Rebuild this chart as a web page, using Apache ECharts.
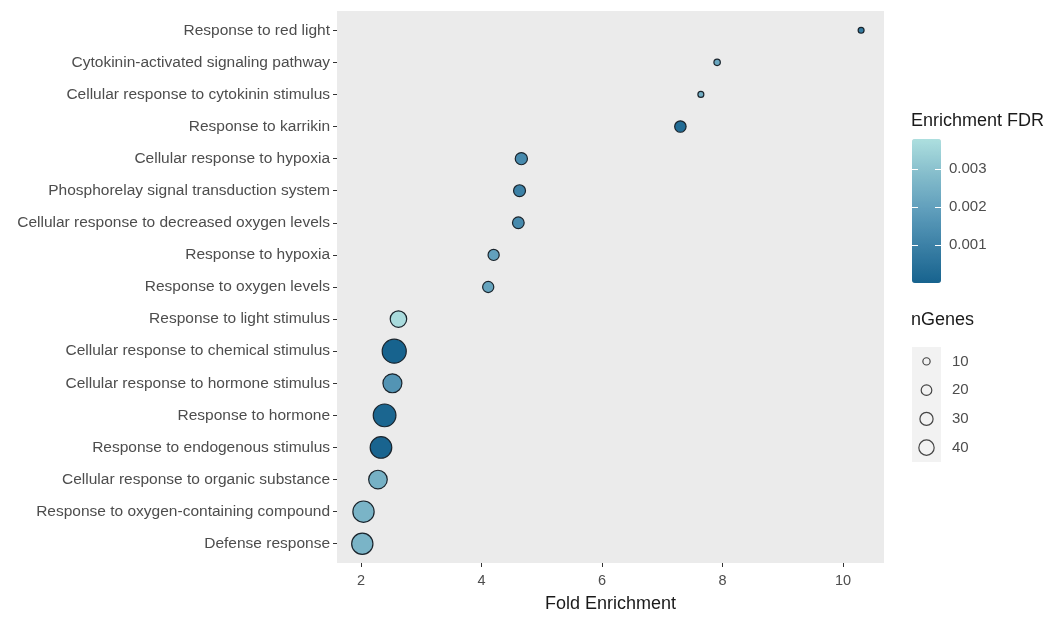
<!DOCTYPE html>
<html>
<head>
<meta charset="utf-8">
<script src="https://cdn.jsdelivr.net/npm/echarts@6/dist/echarts.min.js"></script>
<style>html,body{margin:0;padding:0;background:#fff}#c{width:1064px;height:618px}</style>
</head>
<body>
<div id="c"></div>
<script>
const categories = [
  'Response to red light',
  'Cytokinin-activated signaling pathway',
  'Cellular response to cytokinin stimulus',
  'Response to karrikin',
  'Cellular response to hypoxia',
  'Phosphorelay signal transduction system',
  'Cellular response to decreased oxygen levels',
  'Response to hypoxia',
  'Response to oxygen levels',
  'Response to light stimulus',
  'Cellular response to chemical stimulus',
  'Cellular response to hormone stimulus',
  'Response to hormone',
  'Response to endogenous stimulus',
  'Cellular response to organic substance',
  'Response to oxygen-containing compound',
  'Defense response'
];
const foldEnrichment = [10.30, 7.91, 7.64, 7.30, 4.66, 4.63, 4.61, 4.20, 4.11, 2.62, 2.55, 2.52, 2.39, 2.33, 2.28, 2.04, 2.02];
const fdr = [0.0008, 0.0022, 0.0024, 0.0003, 0.0013, 0.0010, 0.0013, 0.0020, 0.0021, 0.0037, 0.00001, 0.0016, 0.0001, 0.00005, 0.0025, 0.0026, 0.0026];
const nGenes = [7, 8, 7, 23, 26, 25, 24, 22, 22, 46, 95, 60, 85, 77, 58, 75, 75];
const xTicks = [2, 4, 6, 8, 10];
const fdrTicks = [0.001, 0.002, 0.003];
const sizeBreaks = [10, 20, 30, 40];

const sizeFn = n => 2.55 * Math.sqrt(n) - 0.8;
const mainData = categories.map((c, i) => [foldEnrichment[i], i, fdr[i], nGenes[i]]);
const font = 'Liberation Sans, Arial, sans-serif';

const chart = echarts.init(document.getElementById('c'), null, {renderer: 'canvas'});
chart.setOption({
  animation: false,
  backgroundColor: '#ffffff',
  textStyle: {fontFamily: font},
  title: [
    {text: 'Enrichment FDR', left: 911, top: 112, padding: 0,
     textStyle: {fontSize: 18, fontWeight: 'normal', color: '#1a1a1a', fontFamily: font}},
    {text: 'nGenes', left: 911, top: 311, padding: 0,
     textStyle: {fontSize: 18, fontWeight: 'normal', color: '#1a1a1a', fontFamily: font}}
  ],
  grid: [
    {left: 337, right: 180, top: 11, bottom: 55, show: true, backgroundColor: '#ebebeb', borderWidth: 0, outerBoundsMode: 'none'},
    {left: 912, top: 139, width: 29, height: 144, show: false, outerBoundsMode: 'none'},
    {left: 912, top: 347, width: 29, height: 115, show: true, backgroundColor: '#f2f2f2', borderWidth: 0, outerBoundsMode: 'none'}
  ],
  xAxis: [
    {type: 'value', gridIndex: 0, min: 1.6, max: 10.68, position: 'bottom',
     name: 'Fold Enrichment', nameLocation: 'middle', nameGap: 32,
     nameTextStyle: {fontSize: 18, color: '#1a1a1a', fontFamily: font},
     axisLine: {show: false, onZero: false}, splitLine: {show: false},
     axisTick: {show: true, length: 4, lineStyle: {color: '#333'}, customValues: xTicks},
     axisLabel: {color: '#4d4d4d', fontSize: 14.5, margin: 10, customValues: xTicks, fontFamily: font}},
    {type: 'value', gridIndex: 1, show: false, min: 0, max: 1},
    {type: 'category', gridIndex: 2, show: false, data: ['k']}
  ],
  yAxis: [
    {type: 'value', gridIndex: 0, inverse: true, min: -0.6, max: 16.6,
     axisLine: {show: false, onZero: false}, splitLine: {show: false},
     axisTick: {show: true, length: 4, lineStyle: {color: '#333'}, customValues: categories.map((c, i) => i)},
     axisLabel: {color: '#4d4d4d', fontSize: 15.5, margin: 7, fontFamily: font,
                 customValues: categories.map((c, i) => i),
                 formatter: v => categories[Math.round(v)]}},
    {type: 'value', gridIndex: 1, position: 'right', min: 0, max: 0.0038, z: 10,
     axisLine: {show: false, onZero: false}, splitLine: {show: false},
     axisTick: {show: true, inside: true, length: 6, lineStyle: {color: '#ffffff', width: 1}, customValues: fdrTicks},
     axisLabel: {color: '#4d4d4d', fontSize: 15, margin: 8, customValues: fdrTicks, fontFamily: font,
                 formatter: v => v.toFixed(3)}},
    {type: 'value', gridIndex: 1, position: 'left', min: 0, max: 0.0038, z: 10,
     axisLine: {show: false, onZero: false}, splitLine: {show: false},
     axisTick: {show: true, inside: true, length: 6, lineStyle: {color: '#ffffff', width: 1}, customValues: fdrTicks},
     axisLabel: {show: false}},
    {type: 'category', gridIndex: 2, inverse: true, position: 'right', data: sizeBreaks.map(String),
     axisLine: {show: false}, axisTick: {show: false}, splitLine: {show: false},
     axisLabel: {color: '#4d4d4d', fontSize: 15, margin: 11, fontFamily: font}}
  ],
  visualMap: [{
    type: 'continuous', seriesIndex: 0, dimension: 2, min: 0, max: 0.0038,
    left: 912, top: 139, itemWidth: 29, itemHeight: 144, padding: 0,
    calculable: false, hoverLink: false, orient: 'vertical',
    inRange: {color: ['#17638e', '#3a7fa5', '#5e9dbb', '#84bccb', '#addfdf']}
  }],
  series: [
    {type: 'scatter', xAxisIndex: 0, yAxisIndex: 0, data: mainData,
     symbol: 'circle', symbolSize: d => sizeFn(d[3]),
     itemStyle: {borderColor: '#1a242c', borderWidth: 1.2, opacity: 1}},
    {type: 'scatter', xAxisIndex: 2, yAxisIndex: 3,
     data: sizeBreaks.map((b, i) => ['k', String(b), b]),
     symbol: 'circle', symbolSize: d => sizeFn(d[2]),
     itemStyle: {color: 'rgba(0,0,0,0)', borderColor: '#1a1a1a', borderWidth: 1.2}}
  ]
});
</script>
</body>
</html>
